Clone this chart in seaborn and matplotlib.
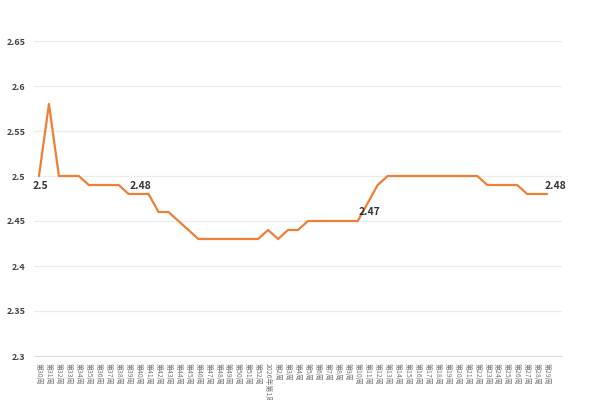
import matplotlib
matplotlib.use("Agg")
import matplotlib.pyplot as plt
import seaborn as sns
import pandas as pd
import numpy as np

weeks = ([f"第{i}周" for i in range(30, 53)] + ["2026年第1周"] +
         [f"第{i}周" for i in range(2, 30)])
prices = [2.50, 2.58, 2.50, 2.50, 2.50, 2.49, 2.49, 2.49, 2.49, 2.48,
          2.48, 2.48, 2.46, 2.46, 2.45, 2.44, 2.43, 2.43, 2.43, 2.43,
          2.43, 2.43, 2.43, 2.44, 2.43, 2.44, 2.44, 2.45, 2.45, 2.45,
          2.45, 2.45, 2.45, 2.47, 2.49, 2.50, 2.50, 2.50, 2.50, 2.50,
          2.50, 2.50, 2.50, 2.50, 2.50, 2.49, 2.49, 2.49, 2.49, 2.48,
          2.48, 2.48]
label_idx = [0, 10, 33, 51]
label_offsets = [(1, -10), (2, 8), (2, -9), (8, 8)]
y_ticks = [2.3, 2.35, 2.4, 2.45, 2.5, 2.55, 2.6, 2.65]

sns.set_style("white")
plt.rcParams['font.family'] = ['Noto Sans CJK SC', 'DejaVu Sans']

df = pd.DataFrame({"idx": np.arange(len(prices)), "price": prices})

fig = plt.figure(figsize=(6, 4), dpi=100)
ax = fig.add_axes([34/600, 1-356/400, (562-34)/600, (356-41)/400])

sns.lineplot(data=df, x="idx", y="price", ax=ax, color="#ee7f33", linewidth=1.6)

ax.set_ylim(2.3, 2.65)
ax.set_xlim(-0.5, len(prices) + 0.5)
ax.set_yticks(y_ticks)
ax.set_yticklabels([f"{v:g}" for v in y_ticks], fontsize=6.5, color="#444444",
                   fontweight="bold")
ax.yaxis.grid(True, color="#ebebeb", linewidth=0.9)
ax.set_axisbelow(True)

ax.set_xticks(np.arange(len(prices)))
ax.set_xticklabels(weeks, rotation=-90, fontsize=5, color="#777777",
                   va="top", ha="center")
ax.set_xticks(np.arange(-0.5, len(prices) + 1, 1), minor=True)
ax.tick_params(axis="x", which="major", length=0, pad=5)
ax.tick_params(axis="x", which="minor", length=4, color="#d8d8d8", width=0.8)
ax.tick_params(axis="y", length=0, pad=6)

for s in ["top", "right", "left"]:
    ax.spines[s].set_visible(False)
ax.spines["bottom"].set_color("#dcdcdc")
ax.spines["bottom"].set_linewidth(0.8)

ax.set_xlabel("")
ax.set_ylabel("")

for i, (dx, dy) in zip(label_idx, label_offsets):
    ax.annotate(f"{prices[i]:g}", (i, prices[i]), xytext=(dx, dy),
                textcoords="offset pixels", ha="center", va="center",
                fontsize=7.5, fontweight="bold", color="#333333")

fig.savefig("out.png", dpi=100)
